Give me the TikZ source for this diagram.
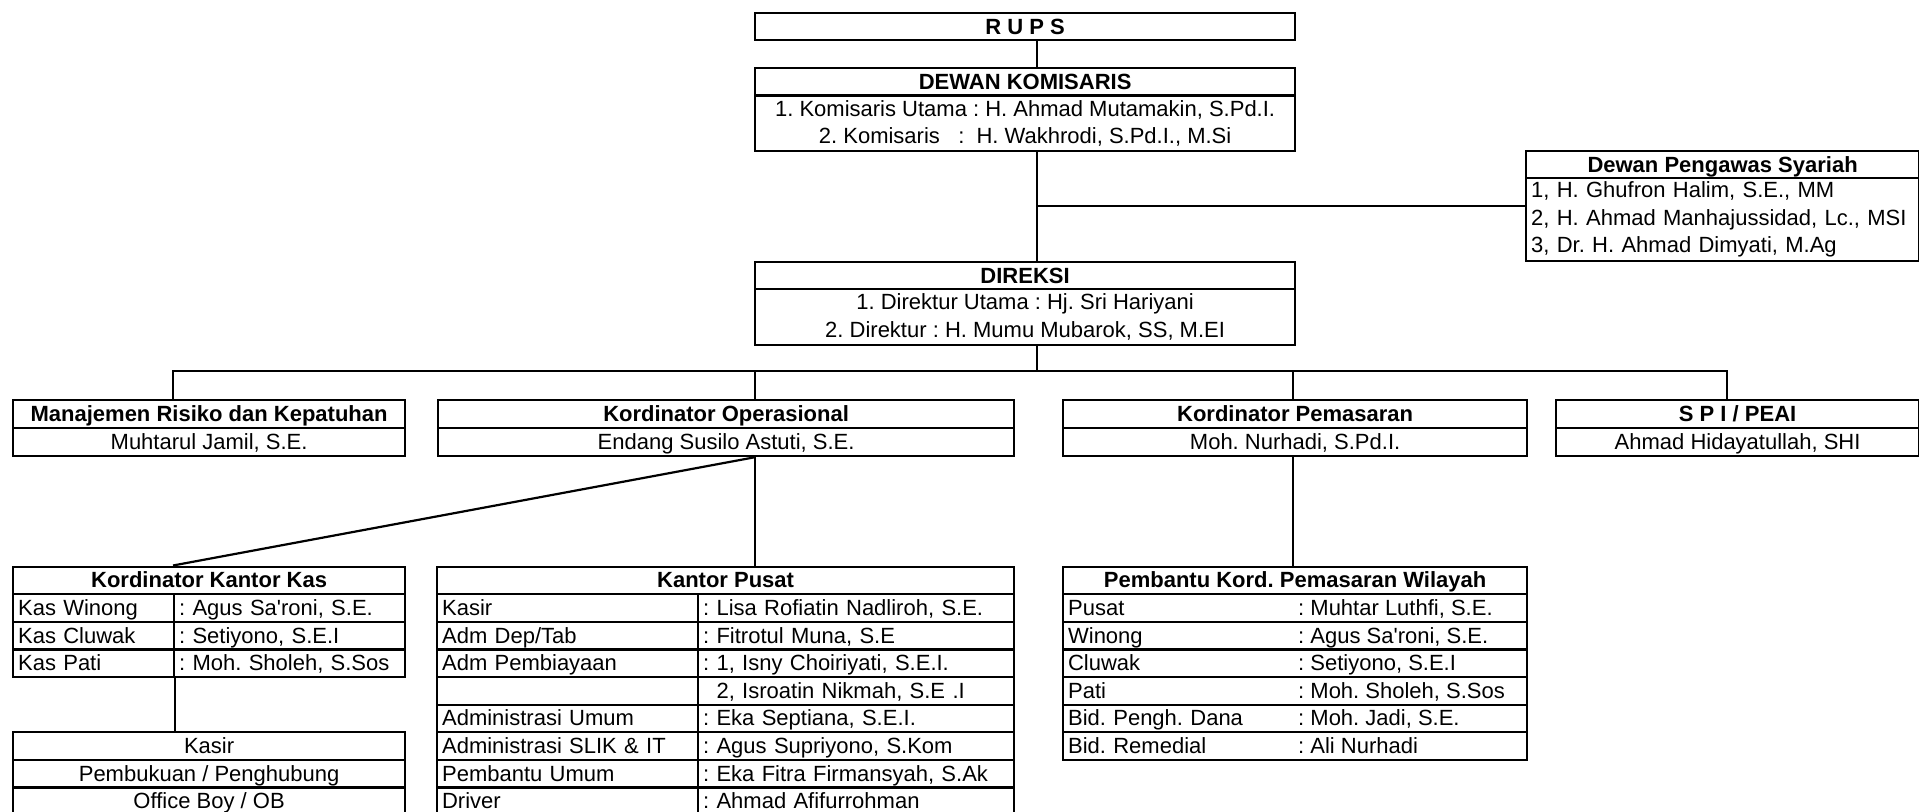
\documentclass[tikz,border=0pt]{standalone}
\usepackage{fontspec}
\setmainfont{Liberation Sans}
\usetikzlibrary{calc}
\newcommand\fs{\fontsize{22}{27.6}\selectfont\frenchspacing}
\begin{document}
\begin{tikzpicture}[x=1pt,y=-1pt,
  base/.style={draw, line width=2.2pt, anchor=north west, inner sep=0pt, text height=16pt, text depth=1pt, font=\fs},
  hd/.style={base, font=\fs\bfseries, minimum height=27.6pt},
  cc/.style={base, minimum height=27.6pt},
  lc/.style={base, minimum height=27.6pt, inner xsep=5pt, align=left, text width=#1},
  multi/.style={draw, line width=2.2pt, anchor=north west, inner sep=0pt, font=\fs, align=center},
  txt/.style={anchor=west, inner sep=0pt, text height=16pt, text depth=1pt, font=\fs},
  conn/.style={line width=2.2pt}]
\path[use as bounding box, clip] (0,0) rectangle (1919,811);
\fill[white] (0,0) rectangle (1919,811);

% coordinates of vertical connectors
\coordinate (cx) at (1037,0);
\coordinate (v1) at (173,0);
\coordinate (v2) at (755,0);
\coordinate (v3) at (1293,0);
\coordinate (v4) at (1727,0);
\coordinate (vx) at (1298,0);
\coordinate (bar) at (0,371);

% top
\node[hd, minimum width=540pt, minimum height=27pt] (rups) at (754,12) {R U P S};
\node[hd, minimum width=540pt, minimum height=27.3pt] (dkh) at (754,67) {DEWAN KOMISARIS};
\node[multi, minimum width=540pt, minimum height=55.7pt] (dkb) at (754,94.3)
  {1. Komisaris Utama : H. Ahmad Mutamakin, S.Pd.I.\\2. Komisaris\ \ \ :\ \ H. Wakhrodi, S.Pd.I., M.Si};

\node[hd, minimum width=393pt, minimum height=27pt] (dpsh) at (1525,150) {Dewan Pengawas Syariah};
\node[multi, align=left, inner xsep=5pt, text width=383pt, minimum height=83pt] (dpsb) at (1525,177)
  {1, H. Ghufron Halim, S.E., MM\\2, H. Ahmad Manhajussidad, Lc., MSI\\3, Dr. H. Ahmad Dimyati, M.Ag};

\node[hd, minimum width=540pt, minimum height=27pt] (dirh) at (754,261) {DIREKSI};
\node[multi, minimum width=540pt, minimum height=56pt] (dirb) at (754,288)
  {1. Direktur Utama : Hj. Sri Hariyani\\2. Direktur : H. Mumu Mubarok, SS, M.EI};

\draw[conn] (rups.south -| cx) -- (dkh.north -| cx);
\draw[conn] (dkb.south -| cx) -- (dirh.north -| cx);
\coordinate (dpsm) at ($(dpsh.north west)!0.5!(dpsb.south west)$);
\draw[conn] (dpsm -| cx) -- (dpsm);

% second level
\node[hd, minimum width=392pt, minimum height=28pt] (mrh) at (12,399) {Manajemen Risiko dan Kepatuhan};
\node[cc, minimum width=392pt, minimum height=28pt] (mrb) at (12,427) {Muhtarul Jamil, S.E.};
\node[hd, minimum width=576pt, minimum height=28pt] (koh) at (437,399) {Kordinator Operasional};
\node[cc, minimum width=576pt, minimum height=28pt] (kob) at (437,427) {Endang Susilo Astuti, S.E.};
\node[hd, minimum width=464pt, minimum height=28pt] (pmh) at (1062,399) {Kordinator Pemasaran};
\node[cc, minimum width=464pt, minimum height=28pt] (pmb) at (1062,427) {Moh. Nurhadi, S.Pd.I.};
\node[hd, minimum width=363pt, minimum height=28pt] (spih) at (1555,399) {S P I / PEAI};
\node[cc, minimum width=363pt, minimum height=28pt] (spib) at (1555,427) {Ahmad Hidayatullah, SHI};

\draw[conn] (dirb.south -| cx) -- (bar -| cx);
\draw[conn] (mrh.north -| v1) -- (bar -| v1) -- (bar -| v4) -- (spih.north -| v4);
\draw[conn] (bar -| v2) -- (koh.north -| v2);
\draw[conn] (bar -| v3) -- (pmh.north -| v3);

% Kordinator Kantor Kas
\node[hd, minimum width=392pt] (kkh) at (12,565.5) {Kordinator Kantor Kas};
\foreach \i/\a/\b in {1/{Kas Winong}/{: Agus Sa\textquotesingle roni, S.E.},
                      2/{Kas Cluwak}/{: Setiyono, S.E.I},
                      3/{Kas Pati}/{: Moh. Sholeh, S.Sos}}{
  \pgfmathsetmacro\yy{593.1+27.6*(\i-1)}
  \node[lc=151pt] (kkL\i) at (12,\yy) {\a};
  \node[lc=221pt] (kkR\i) at (173,\yy) {\b};
}
\node[cc, minimum width=392pt] (ksr1) at (12,731.1) {Kasir};
\node[cc, minimum width=392pt] (ksr2) at (12,758.7) {Pembukuan / Penghubung};
\node[cc, minimum width=392pt] (ksr3) at (12,786.3) {Office Boy / OB};

% Kantor Pusat
\node[hd, minimum width=577pt] (kpush) at (436,565.5) {Kantor Pusat};
\foreach \i/\a/\b in {1/{Kasir}/{: Lisa Rofiatin Nadliroh, S.E.},
                      2/{Adm Dep/Tab}/{: Fitrotul Muna, S.E},
                      3/{Adm Pembiayaan}/{: 1, Isny Choiriyati, S.E.I.},
                      4/{}/{\phantom{: }2, Isroatin Nikmah, S.E .I},
                      5/{Administrasi Umum}/{: Eka Septiana, S.E.I.},
                      6/{Administrasi SLIK \& IT}/{: Agus Supriyono, S.Kom},
                      7/{Pembantu Umum}/{: Eka Fitra Firmansyah, S.Ak},
                      8/{Driver}/{: Ahmad Afifurrohman}}{
  \pgfmathsetmacro\yy{593.1+27.6*(\i-1)}
  \node[lc=251pt] (kpL\i) at (436,\yy) {\a};
  \node[lc=306pt] (kpR\i) at (697,\yy) {\b};
}

% Pembantu Kord. Pemasaran Wilayah
\node[hd, minimum width=464pt] (pwh) at (1062,565.5) {Pembantu Kord. Pemasaran Wilayah};
\foreach \i/\a/\b in {1/{Pusat}/{: Muhtar Luthfi, S.E.},
                      2/{Winong}/{: Agus Sa\textquotesingle roni, S.E.},
                      3/{Cluwak}/{: Setiyono, S.E.I},
                      4/{Pati}/{: Moh. Sholeh, S.Sos},
                      5/{Bid. Pengh. Dana}/{: Moh. Jadi, S.E.},
                      6/{Bid. Remedial}/{: Ali Nurhadi}}{
  \pgfmathsetmacro\yy{593.1+27.6*(\i-1)}
  \node[lc=454pt] (pw\i) at (1062,\yy) {\a};
  \node[txt] (pwV\i) at (pw\i.west -| vx) {\b};
}

% lower connectors
\draw[conn] (kob.south -| v2) -- (kpush.north -| v2);
\draw[conn] (kob.south -| v2) -- (kkh.north -| v1);
\draw[conn] (pmb.south -| v3) -- (pwh.north -| v3);
\draw[conn] (kkL3.south east) -- (ksr1.north -| kkL3.south east);
\end{tikzpicture}
\end{document}
